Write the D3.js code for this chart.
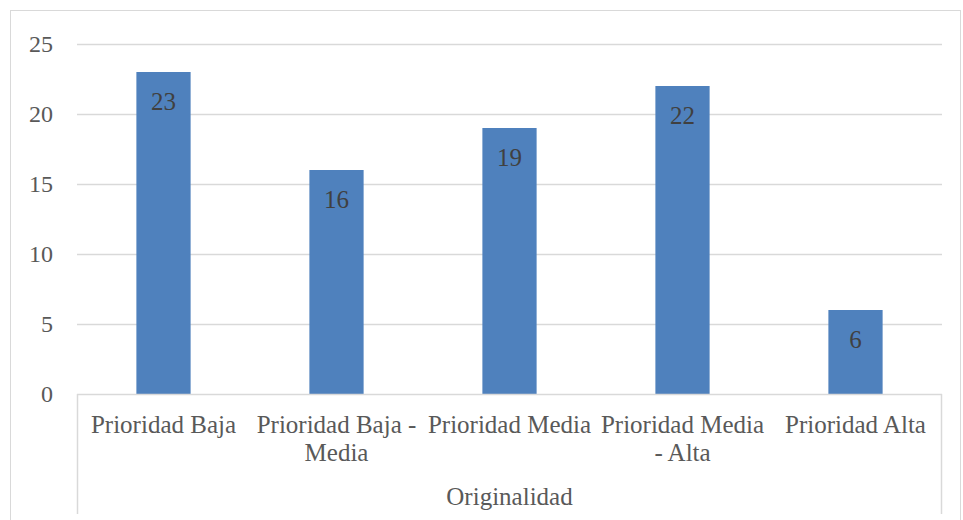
<!DOCTYPE html>
<html><head><meta charset="utf-8">
<script src="https://cdn.jsdelivr.net/npm/d3@7"></script>
<style>body{margin:0;background:#fff}svg{display:block}</style>
</head><body><svg id="c" width="963" height="520"></svg>
<script>
const categories = ["Prioridad Baja", "Prioridad Baja - Media", "Prioridad Media", "Prioridad Media - Alta", "Prioridad Alta"];
const categoryLines = [["Prioridad Baja"], ["Prioridad Baja -", "Media"], ["Prioridad Media"], ["Prioridad Media", "- Alta"], ["Prioridad Alta"]];
const values = [23, 16, 19, 22, 6];
const yTicks = [0, 5, 10, 15, 20, 25];
const groupLabel = "Originalidad";

(function(){
const svg = d3.select("#c");
const font = "'Liberation Serif', serif";
const textColor = "#595959";
const fs = 24;
const mL = 77, mR = 942, mT = 44, mB = 394;

svg.append("rect").attr("x",10.5).attr("y",10.5).attr("width",950).attr("height",520)
  .attr("fill","none").attr("stroke","#d9d9d9");

const x = d3.scaleBand().domain(categories).range([mL, mR]).padding(0);
const y = d3.scaleLinear().domain([0, 25]).range([mB, mT]);

svg.append("g").selectAll("line").data(yTicks.filter(d=>d>0)).join("line")
  .attr("x1", mL).attr("x2", mR)
  .attr("y1", d=>Math.round(y(d))+0.5).attr("y2", d=>Math.round(y(d))+0.5)
  .attr("stroke","#d9d9d9").attr("stroke-width",1.5);

svg.append("g").selectAll("text").data(yTicks).join("text")
  .attr("x", 53).attr("y", d=>y(d)+8)
  .attr("text-anchor","end").attr("font-family",font).attr("font-size",fs)
  .attr("fill",textColor).text(d=>d);

const bw = x.bandwidth()/3.19;
svg.append("g").selectAll("rect").data(values).join("rect")
  .attr("x",(d,i)=>x(categories[i])+x.bandwidth()/2-bw/2)
  .attr("width",bw)
  .attr("y",d=>y(d)).attr("height",d=>y(0)-y(d))
  .attr("fill","#4f81bd");

svg.append("g").selectAll("text").data(values).join("text")
  .attr("x",(d,i)=>x(categories[i])+x.bandwidth()/2)
  .attr("y",d=>y(d)+38)
  .attr("text-anchor","middle").attr("font-family",font).attr("font-size",fs+1)
  .attr("fill","#404040").text(d=>d);

const ax = svg.append("g").attr("stroke","#d9d9d9").attr("stroke-width",1.5);
ax.append("line").attr("x1",mL).attr("x2",mR).attr("y1",mB+0.5).attr("y2",mB+0.5);
ax.append("line").attr("x1",mL+0.5).attr("x2",mL+0.5).attr("y1",mB).attr("y2",514);
ax.append("line").attr("x1",mR-0.5).attr("x2",mR-0.5).attr("y1",mB).attr("y2",514);

const cg = svg.append("g").selectAll("text").data(categoryLines).join("text")
  .attr("text-anchor","middle").attr("font-family",font).attr("font-size",fs+1)
  .attr("fill",textColor);
cg.each(function(lines,i){
  d3.select(this).selectAll("tspan").data(lines).join("tspan")
    .attr("x", x(categories[i])+x.bandwidth()/2)
    .attr("y",(l,j)=>433+j*28).text(l=>l);
});

svg.append("text").attr("x",(mL+mR)/2).attr("y",505)
  .attr("text-anchor","middle").attr("font-family",font).attr("font-size",fs+1)
  .attr("fill",textColor).text(groupLabel);
})();
</script></body></html>
